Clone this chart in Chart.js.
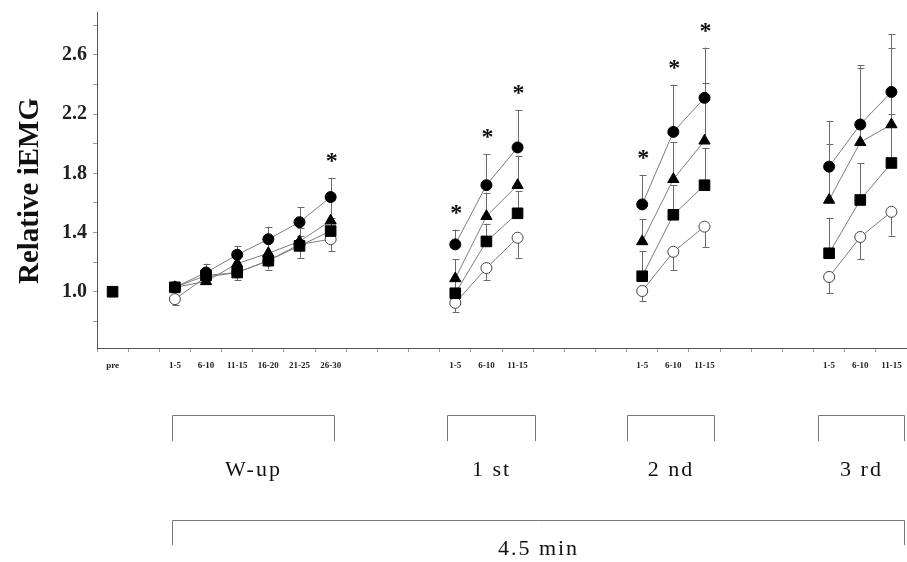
<!DOCTYPE html>
<html>
<head>
<meta charset="utf-8">
<script src="https://cdn.jsdelivr.net/npm/chart.js@4/dist/chart.umd.min.js"></script>
<style>
  body { margin: 0; background: #fff; }
  canvas { display: block; }
</style>
</head>
<body>
<canvas id="emgChart" width="907" height="562"></canvas>
<script>
// categorias do eixo x (espacos vazios entre os blocos)
const xLabels = ['pre', '',
  '1-5', '6-10', '11-15', '16-20', '21-25', '26-30', '', '', '',
  '1-5', '6-10', '11-15', '', '', '',
  '1-5', '6-10', '11-15', '', '', '',
  '1-5', '6-10', '11-15'];

// valores medios (iEMG relativo)
const circleVals = [null, null, 1.03, 1.13, 1.25, 1.355, 1.47, 1.64, null, null, null,
  1.32, 1.72, 1.975, null, null, null, 1.59, 2.08, 2.31, null, null, null, 1.845, 2.13, 2.35];
const triangleVals = [null, null, 1.03, 1.07, 1.19, 1.26, 1.34, 1.48, null, null, null,
  1.09, 1.51, 1.72, null, null, null, 1.34, 1.76, 2.02, null, null, null, 1.62, 2.01, 2.13];
const squareVals = [1.00, null, 1.03, 1.11, 1.13, 1.21, 1.31, 1.41, null, null, null,
  0.99, 1.34, 1.53, null, null, null, 1.105, 1.52, 1.72, null, null, null, 1.26, 1.62, 1.87];
const openVals = [null, null, 0.95, 1.10, 1.13, 1.21, 1.32, 1.355, null, null, null,
  0.925, 1.16, 1.365, null, null, null, 1.005, 1.27, 1.44, null, null, null, 1.10, 1.37, 1.54];

// desvio padrao (barras de erro)
const circleErr = [null, null, 0.03, 0.06, 0.06, 0.085, 0.10, 0.13, null, null, null,
  0.10, 0.21, 0.25, null, null, null, 0.20, 0.32, 0.34, null, null, null, 0.31, 0.40, 0.39];
const triangleErr = [null, null, 0.03, 0.04, 0.05, 0.07, 0.09, 0.14, null, null, null,
  0.13, 0.16, 0.20, null, null, null, 0.15, 0.25, 0.39, null, null, null, 0.38, 0.50, 0.52];
const squareErr = [null, null, 0.03, 0.03, 0.04, 0.05, 0.07, 0.09, null, null, null,
  0.08, 0.12, 0.15, null, null, null, 0.17, 0.20, 0.25, null, null, null, 0.24, 0.25, 0.33];
const openErr = [null, null, 0.04, 0.04, 0.05, 0.06, 0.09, 0.08, null, null, null,
  0.065, 0.08, 0.135, null, null, null, 0.07, 0.125, 0.14, null, null, null, 0.11, 0.15, 0.16];

// diferenca significativa (*)
const sigIdx = [7, 11, 12, 13, 17, 18, 19];

// ticks do eixo y
const yTickValues = [0.8, 1.0, 1.2, 1.4, 1.6, 1.8, 2.0, 2.2, 2.4, 2.6, 2.8];
const yLabelValues = [1.0, 1.4, 1.8, 2.2, 2.6];

// blocos abaixo do grafico
const blocks = [
  { label: 'W-up', from: 1.9, to: 7.1 },
  { label: '1 st', from: 10.75, to: 13.55 },
  { label: '2 nd', from: 16.5, to: 19.3 },
  { label: '3 rd', from: 22.65, to: 25.45 }
];
const totalBlock = { label: '4.5 min', from: 1.9, to: 25.45 };

const serif = "'Liberation Serif', 'Times New Roman', serif";

// barras de erro: desenhadas antes dos pontos
const errorBars = {
  id: 'errorBars',
  beforeDatasetsDraw(chart) {
    const ctx = chart.ctx;
    const xs = chart.scales.x, ys = chart.scales.y;
    ctx.save();
    ctx.strokeStyle = '#6a6a6a';
    ctx.lineWidth = 1;
    chart.data.datasets.forEach(ds => {
      ds.data.forEach((v, i) => {
        const e = ds.err[i];
        if (v == null || e == null) return;
        const x = Math.round(xs.getPixelForValue(i)) + 0.5;
        const y0 = ys.getPixelForValue(v);
        const y1 = ys.getPixelForValue(v + ds.dir * e);
        ctx.beginPath();
        ctx.moveTo(x, y0);
        ctx.lineTo(x, y1);
        ctx.moveTo(x - 3, Math.round(y1) + 0.5);
        ctx.lineTo(x + 4, Math.round(y1) + 0.5);
        ctx.stroke();
      });
    });
    ctx.restore();
  }
};

// asteriscos, titulo do eixo y, chaves e textos de baixo
const annotations = {
  id: 'annotations',
  afterDraw(chart) {
    const ctx = chart.ctx;
    const xs = chart.scales.x, ys = chart.scales.y;
    ctx.save();
    ctx.fillStyle = '#111';
    ctx.font = 'bold 24px ' + serif;
    ctx.textAlign = 'center';
    ctx.textBaseline = 'alphabetic';
    sigIdx.forEach(i => {
      const x = xs.getPixelForValue(i);
      const y = ys.getPixelForValue(circleVals[i] + circleErr[i]);
      ctx.fillText('*', x + 1, y - 10);
    });

    // titulo do eixo y
    ctx.save();
    ctx.translate(31, 191);
    ctx.rotate(-Math.PI / 2);
    ctx.textBaseline = 'middle';
    ctx.font = 'bold 29px ' + serif;
    ctx.fillText('Relative iEMG', 0, 0);
    ctx.restore();

    ctx.strokeStyle = '#777';
    ctx.lineWidth = 1;
    const bracket = (b, top, bottom) => {
      const x0 = Math.round(xs.getPixelForValue(b.from)) + 0.5;
      const x1 = Math.min(Math.round(xs.getPixelForValue(b.to)), 904) + 0.5;
      ctx.beginPath();
      ctx.moveTo(x0, bottom);
      ctx.lineTo(x0, top + 0.5);
      ctx.lineTo(x1, top + 0.5);
      ctx.lineTo(x1, bottom);
      ctx.stroke();
      return (x0 + x1) / 2;
    };
    ctx.font = '22px ' + serif;
    ctx.letterSpacing = '2px';
    ctx.textBaseline = 'middle';
    blocks.forEach(b => {
      const cx = bracket(b, 415, 441);
      ctx.fillText(b.label, cx, 470);
    });
    const cx = bracket(totalBlock, 520, 545);
    ctx.fillText(totalBlock.label, cx, 549);
    ctx.restore();
  }
};

const lineGray = '#7d7d7d';

const dadosEmg = {
  labels: xLabels,
  datasets: [{
    label: 'circle',
    data: circleVals, err: circleErr, dir: 1,
    pointStyle: 'circle', pointRadius: 5.5,
    pointBackgroundColor: '#000', pointBorderColor: '#000',
    borderColor: lineGray, order: 1
  }, {
    label: 'triangle',
    data: triangleVals, err: triangleErr, dir: 1,
    pointStyle: 'triangle', pointRadius: 6.5,
    pointBackgroundColor: '#000', pointBorderColor: '#000',
    borderColor: lineGray, order: 2
  }, {
    label: 'square',
    data: squareVals, err: squareErr, dir: 1,
    pointStyle: 'rect', pointRadius: 7.5,
    pointBackgroundColor: '#000', pointBorderColor: '#000',
    borderColor: lineGray, order: 0
  }, {
    label: 'open',
    data: openVals, err: openErr, dir: -1,
    pointStyle: 'circle', pointRadius: 5.5,
    pointBackgroundColor: '#fff', pointBorderColor: '#444', pointBorderWidth: 1,
    borderColor: lineGray, order: 3
  }]
};

const configEmg = {
  type: 'line',
  data: dadosEmg,
  options: {
    responsive: false,
    animation: false,
    spanGaps: false,
    layout: { autoPadding: false, padding: { top: 12, left: 0, right: 0, bottom: 0 } },
    elements: { line: { borderWidth: 1, tension: 0 } },
    plugins: { legend: { display: false }, tooltip: { enabled: false } },
    scales: {
      x: {
        type: 'category',
        offset: true,
        grid: { offset: true, drawOnChartArea: false, tickLength: 4, color: '#999' },
        border: { color: '#555' },
        ticks: {
          autoSkip: false, maxRotation: 0, minRotation: 0, padding: 8,
          color: '#222',
          font: { family: serif, size: 9, weight: 'bold' }
        },
        afterFit(scale) {
          scale.height = 214;
          scale.paddingLeft = 0;
          scale.paddingRight = 0;
        }
      },
      y: {
        min: 0.62,
        max: 2.89,
        grid: { drawOnChartArea: false, tickLength: 4, color: '#999' },
        border: { color: '#555' },
        afterBuildTicks(scale) {
          scale.ticks = yTickValues.map(v => ({ value: v }));
        },
        ticks: {
          padding: 6,
          color: '#222',
          font: { family: serif, size: 20, weight: 'bold' },
          callback(value) {
            return yLabelValues.some(l => Math.abs(l - value) < 1e-6) ? value.toFixed(1) : '';
          }
        },
        afterFit(scale) {
          scale.width = 97;
          scale.paddingTop = 0;
          scale.paddingBottom = 0;
        }
      }
    }
  },
  plugins: [errorBars, annotations]
};

new Chart(document.getElementById('emgChart').getContext('2d'), configEmg);
</script>
</body>
</html>
